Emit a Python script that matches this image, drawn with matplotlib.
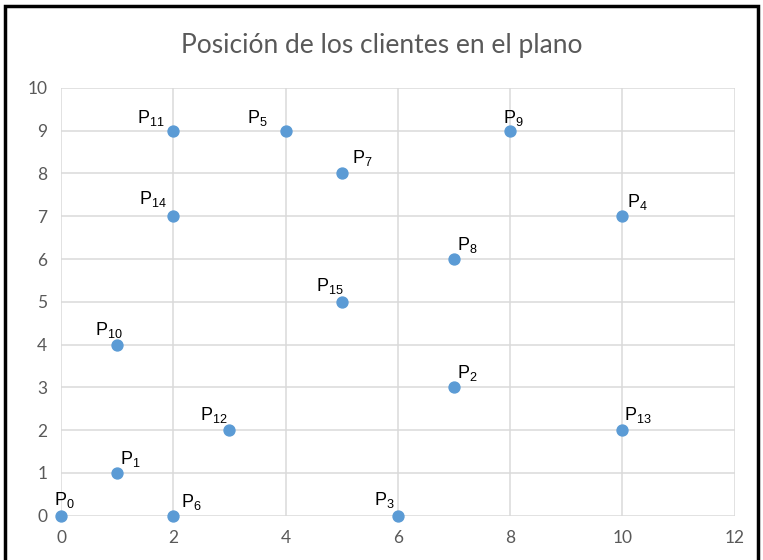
import matplotlib.pyplot as plt
from matplotlib.patches import Rectangle

plt.rcParams['mathtext.fontset'] = 'custom'
plt.rcParams['mathtext.rm'] = 'Liberation Sans'
plt.rcParams['mathtext.it'] = 'Liberation Sans'

# client positions
names = ['0', '1', '2', '3', '4', '5', '6', '7', '8', '9', '10', '11', '12', '13', '14', '15']
xs = [0, 1, 7, 6, 10, 4, 2, 5, 7, 8, 1, 2, 3, 10, 2, 5]
ys = [0, 1, 3, 0, 7, 9, 0, 8, 6, 9, 4, 9, 2, 2, 7, 5]

# label offsets in pixels (dx, dy) and horizontal alignment
offsets = {
    '0': (3, 6, 'center'), '1': (3, 4, 'left'), '2': (3, 4, 'left'),
    '3': (-3, 6, 'right'), '4': (5, 4, 'left'), '5': (-18, 3, 'right'),
    '6': (8, 4, 'left'), '7': (10, 5, 'left'), '8': (3, 4, 'left'),
    '9': (3, 3, 'center'), '10': (-8, 5, 'center'), '11': (-9, 3, 'right'),
    '12': (-2, 5, 'right'), '13': (2, 5, 'left'), '14': (-7, 7, 'right'),
    '15': (2, 6, 'right'),
}

fig = plt.figure(figsize=(7.63, 5.60), dpi=100)
fig.patches.append(Rectangle((0.007, -0.01), 0.986, 1.0, transform=fig.transFigure,
                             fill=False, edgecolor='black', linewidth=2.5))
ax = fig.add_axes([0.080, 0.079, 0.883, 0.764])

ax.scatter(xs, ys, s=62, color='#5B9BD5', zorder=3, clip_on=False)
for n, x, y in zip(names, xs, ys):
    dx, dy, ha = offsets[n]
    ax.annotate(r'$\mathrm{P}_{' + n + '}$', (x, y), xytext=(dx, dy),
                textcoords='offset pixels', ha=ha, va='bottom', fontsize=13,
                color='black')

ax.set_xlim(0, 12)
ax.set_ylim(0, 10)
ax.set_xticks(range(0, 13, 2))
ax.set_yticks(range(0, 11))
ax.grid(True, color='#DADADA', linewidth=1.1)
ax.set_axisbelow(True)
for s in ax.spines.values():
    s.set_visible(False)
ax.tick_params(length=0, labelsize=12.5, labelcolor='#595959', pad=10)
for lab in ax.get_xticklabels() + ax.get_yticklabels():
    lab.set_family('Lato')

fig.text(0.5, 0.918, 'Posición de los clientes en el plano', ha='center', va='center',
         fontsize=19, color='#595959', family='Lato')

fig.savefig('out.png', dpi=100)
